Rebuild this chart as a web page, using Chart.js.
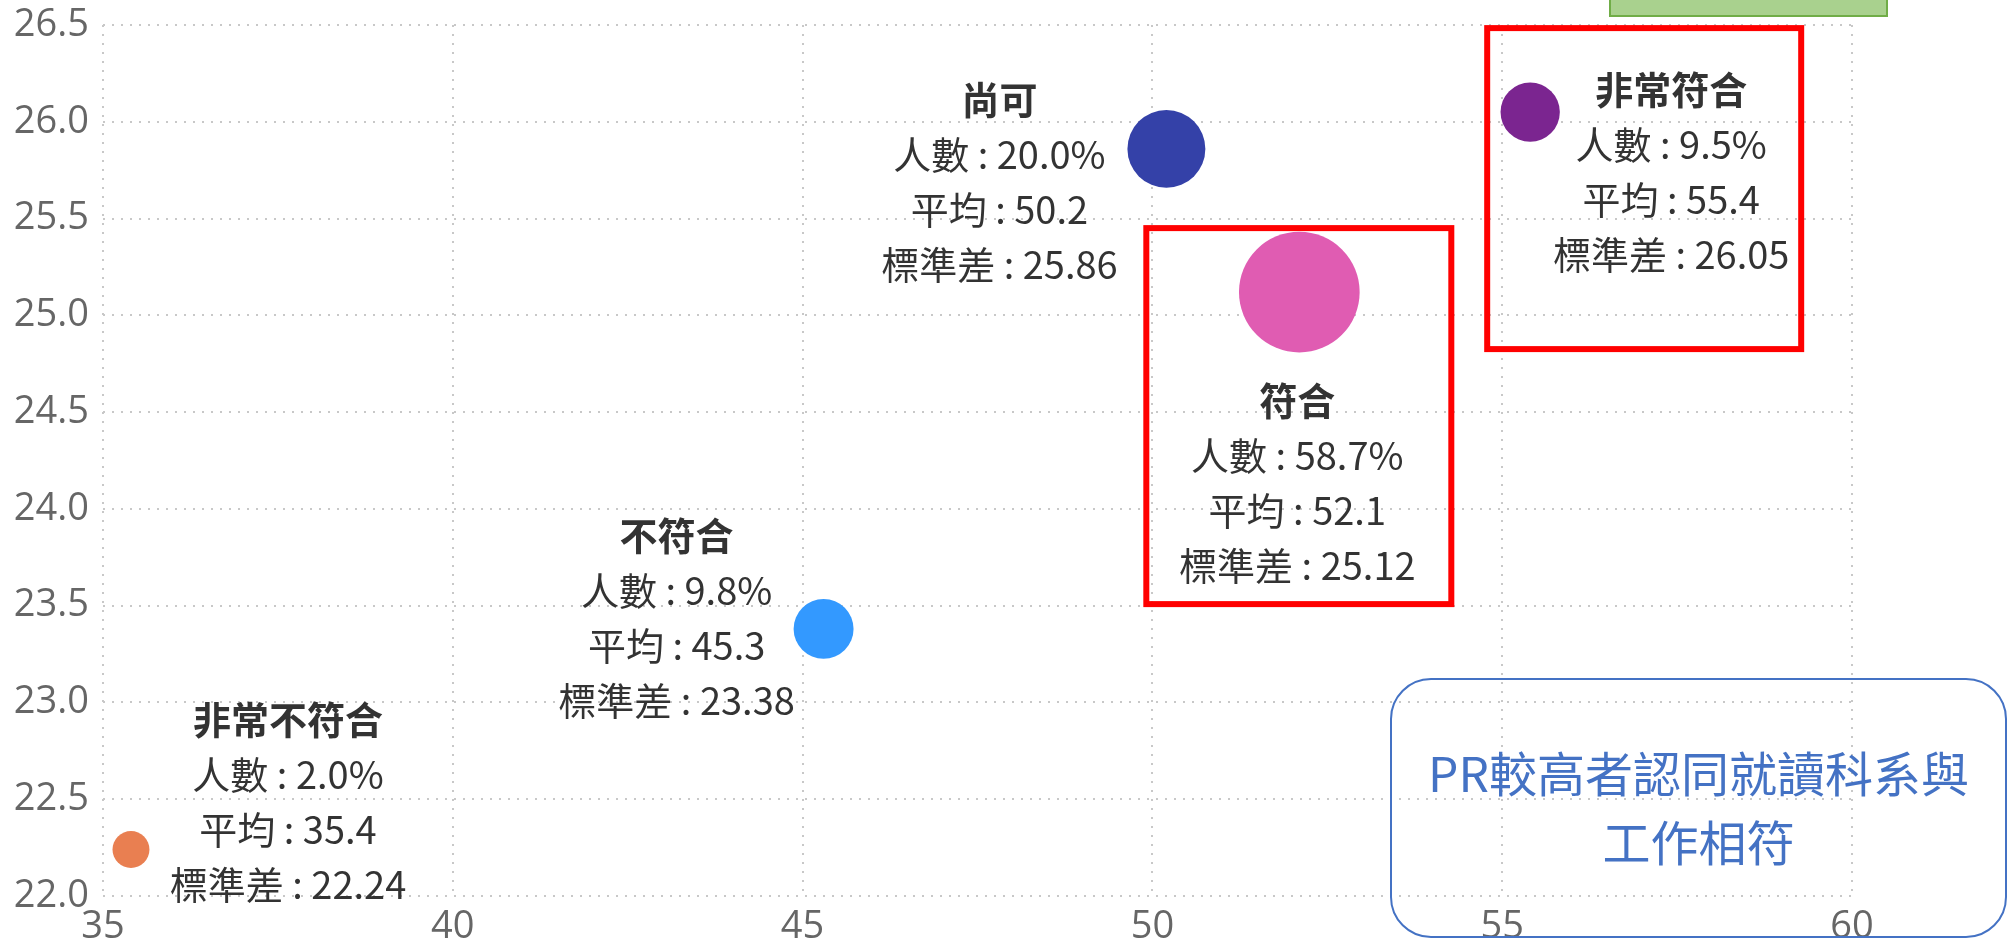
<!DOCTYPE html>
<html>
<head>
<meta charset="utf-8">
<script src="https://cdn.jsdelivr.net/npm/chart.js@4"></script>
<style>
   body { margin: 0; background: #fff; }
   canvas { display: block; }
</style>
</head>
<body>
<canvas id="chart-bubble" width="2016" height="947"></canvas>
<script>
// datos do gráfico
var categorias = ["非常不符合", "不符合", "尚可", "符合", "非常符合"];
var media = [35.4, 45.3, 50.2, 52.1, 55.4];
var desvio = [22.24, 23.38, 25.86, 25.12, 26.05];
var pessoas = [2.0, 9.8, 20.0, 58.7, 9.5];
var cores = ["#E97F51", "#3399FF", "#3441A8", "#E05CB2", "#7B2590"];
var xTicks = [35, 40, 45, 50, 55, 60];
var yTicks = [22.0, 22.5, 23.0, 23.5, 24.0, 24.5, 25.0, 25.5, 26.0, 26.5];
var nota = ["PR較高者認同就讀科系與", "工作相符"];

// posição dos rótulos em relação ao centro de cada bolha (px)
var rotuloPos = [
   { dx: 157, dy: -130 },
   { dx: -147, dy: -93 },
   { dx: -167, dy: -49 },
   { dx: -2, dy: 108 },
   { dx: 141, dy: -23 },
];
// caixas vermelhas (relativas à bolha): indice, esquerda, topo, direita, base
var caixas = [
   { i: 3, l: -153, t: -64, r: 152, b: 312 },
   { i: 4, l: -43, t: -84, r: 271, b: 237 },
];

var pontos = [];
for (let i = 0; i < categorias.length; i++) {
   pontos.push({ x: media[i], y: desvio[i], r: 9 + 6.7 * Math.sqrt(pessoas[i]) });
}

const pluginRotulos = {
   id: "rotulos",
   afterDatasetsDraw(chart) {
      const ctx = chart.ctx;
      const meta = chart.getDatasetMeta(0);
      ctx.save();

      // caixas vermelhas
      ctx.strokeStyle = "#FF0000";
      ctx.lineWidth = 6;
      caixas.forEach(c => {
         const p = meta.data[c.i];
         ctx.strokeRect(p.x + c.l, p.y + c.t, c.r - c.l, c.b - c.t);
      });

      // rótulos
      ctx.textAlign = "center";
      ctx.textBaseline = "middle";
      ctx.fillStyle = "#333333";
      meta.data.forEach((p, i) => {
         const cx = p.x + rotuloPos[i].dx;
         const cy = p.y + rotuloPos[i].dy;
         const linhas = [
            categorias[i],
            "人數 : " + pessoas[i].toFixed(1) + "%",
            "平均 : " + media[i].toFixed(1),
            "標準差 : " + desvio[i].toFixed(2),
         ];
         linhas.forEach((t, k) => {
            ctx.font = (k == 0 ? "bold " : "") + "38px 'Noto Sans CJK TC', 'Noto Sans', sans-serif";
            ctx.fillText(t, cx, cy + k * 55);
         });
      });

      // caixa de texto azul
      const bx = 1391, by = 679, bw = 615, bh = 258, rr = 40;
      ctx.strokeStyle = "#4472C4";
      ctx.lineWidth = 2;
      ctx.beginPath();
      ctx.roundRect(bx, by, bw, bh, rr);
      ctx.stroke();
      ctx.fillStyle = "#4472C4";
      ctx.font = "48px 'Noto Sans CJK TC', 'Noto Sans', sans-serif";
      ctx.fillText(nota[0], bx + bw / 2, 774);
      ctx.fillText(nota[1], bx + bw / 2, 843);

      // caixa verde no topo
      ctx.fillStyle = "#A9D18E";
      ctx.strokeStyle = "#70AD47";
      ctx.lineWidth = 2;
      ctx.fillRect(1610, -2, 277, 18);
      ctx.strokeRect(1610, -2, 277, 18);

      ctx.restore();
   },
};

const ctxBubble = document.getElementById("chart-bubble");
new Chart(ctxBubble, {
   type: "bubble",
   data: {
      datasets: [
         {
            label: "人數",
            data: pontos,
            backgroundColor: cores,
            borderColor: cores,
            borderWidth: 0,
            hoverRadius: 0,
         },
      ],
   },
   options: {
      responsive: false,
      animation: false,
      events: [],
      layout: {
         autoPadding: false,
         padding: { top: 25, right: 164, bottom: 0, left: 0 },
      },
      plugins: {
         legend: { display: false },
         tooltip: { enabled: false },
      },
      scales: {
         x: {
            type: "linear",
            min: xTicks[0],
            max: xTicks[xTicks.length - 1],
            afterBuildTicks: function (scale) {
               scale.ticks = xTicks.map(v => ({ value: v }));
            },
            afterFit: function (scale) {
               scale.height = 51;
               scale.paddingLeft = 0;
               scale.paddingRight = 0;
            },
            border: { display: false, dash: [2, 7] },
            grid: {
               color: "#C8C8C8",
               lineWidth: 2,
               drawTicks: false,
            },
            ticks: {
               color: "#666666",
               padding: 8,
               font: { family: "'Open Sans', 'Noto Sans', sans-serif", size: 38 },
            },
         },
         y: {
            type: "linear",
            min: yTicks[0],
            max: yTicks[yTicks.length - 1],
            afterBuildTicks: function (scale) {
               scale.ticks = yTicks.map(v => ({ value: v }));
            },
            afterFit: function (scale) {
               scale.width = 103;
               scale.paddingTop = 0;
               scale.paddingBottom = 0;
            },
            border: { display: false, dash: [2, 7] },
            grid: {
               color: "#C8C8C8",
               lineWidth: 2,
               drawTicks: false,
            },
            ticks: {
               color: "#666666",
               padding: 14,
               font: { family: "'Open Sans', 'Noto Sans', sans-serif", size: 38 },
               callback: function (v) {
                  return Number(v).toFixed(1);
               },
            },
         },
      },
   },
   plugins: [pluginRotulos],
});
</script>
</body>
</html>
